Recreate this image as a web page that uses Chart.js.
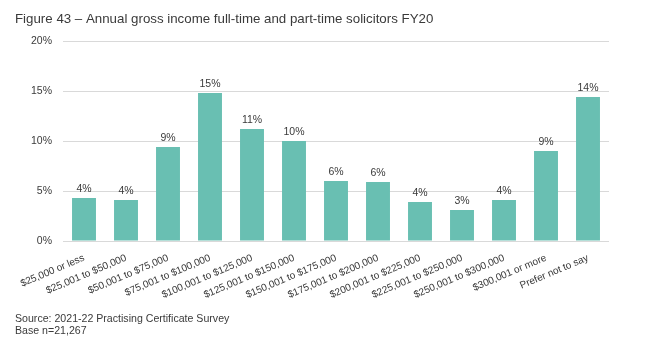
<!DOCTYPE html>
<html>
<head>
<meta charset="utf-8">
<script src="https://cdn.jsdelivr.net/npm/chart.js@4"></script>
<style>
  html, body { margin: 0; padding: 0; background: #fff; }
  #wrap { width: 650px; height: 354px; position: relative; }
</style>
</head>
<body>
<div id="wrap"><canvas id="incomeChart" width="650" height="354"></canvas></div>
<script>
const categories = [
  '$25,000 or less', '$25,001 to $50,000', '$50,001 to $75,000', '$75,001 to $100,000',
  '$100,001 to $125,000', '$125,001 to $150,000', '$150,001 to $175,000', '$175,001 to $200,000',
  '$200,001 to $225,000', '$225,001 to $250,000', '$250,001 to $300,000', '$300,001 or more',
  'Prefer not to say'
];
const shares = [4.3, 4.1, 9.4, 14.8, 11.2, 10.0, 6.0, 5.9, 3.9, 3.1, 4.1, 9.0, 14.4];
const yTicks = [0, 5, 10, 15, 20];

const titleText = 'Figure 43 \u2013 Annual gross income full-time and part-time solicitors FY20';
const noteLines = ['Source: 2021-22 Practising Certificate Survey', 'Base n=21,267'];

const textColor = '#3a3a3a';
const fontFamily = 'Arial, "Liberation Sans", sans-serif';

// labels above bars + title/source text
const barLabels = {
  id: 'barLabels',
  afterDatasetsDraw(chart) {
    const ctx = chart.ctx;
    const meta = chart.getDatasetMeta(0);
    ctx.save();
    ctx.fillStyle = textColor;
    ctx.font = '10.5px ' + fontFamily;
    ctx.textAlign = 'center';
    ctx.textBaseline = 'alphabetic';
    meta.data.forEach((bar, i) => {
      ctx.fillText(Math.round(shares[i]) + '%', bar.x, bar.y - 6);
    });
    ctx.restore();
  },
  afterDraw(chart) {
    const ctx = chart.ctx;
    ctx.save();
    ctx.fillStyle = textColor;
    ctx.textAlign = 'left';
    ctx.textBaseline = 'alphabetic';
    ctx.font = '13.3px ' + fontFamily;
    ctx.fillText(titleText, 15, 23);
    ctx.font = '10.6px ' + fontFamily;
    ctx.fillText(noteLines[0], 15, 322);
    ctx.fillText(noteLines[1], 15, 334);
    ctx.restore();
  }
};

const ctx = document.getElementById('incomeChart');
new Chart(ctx, {
  type: 'bar',
  data: {
    labels: categories,
    datasets: [{
      data: shares,
      backgroundColor: '#69BFB2',
      barPercentage: 0.57,
      categoryPercentage: 1.0
    }]
  },
  options: {
    responsive: false,
    animation: false,
    layout: { padding: { top: 41, left: 0, right: 41, bottom: 0 } },
    plugins: {
      legend: { display: false },
      tooltip: { enabled: false }
    },
    scales: {
      x: {
        grid: { display: false },
        border: { display: false },
        ticks: {
          color: textColor,
          font: { size: 10, family: fontFamily },
          minRotation: 23,
          maxRotation: 23,
          autoSkip: false,
          padding: 3
        },
        afterFit(scale) { scale.height = 113; }
      },
      y: {
        min: 0,
        max: 20,
        afterBuildTicks(scale) { scale.ticks = yTicks.map(v => ({ value: v })); },
        grid: { color: '#d9d9d9', drawTicks: false, lineWidth: 1 },
        border: { display: false },
        ticks: {
          color: textColor,
          font: { size: 10.5, family: fontFamily },
          padding: 11,
          callback: v => v + '%'
        },
        afterFit(scale) { scale.width = 63; }
      }
    }
  },
  plugins: [barLabels]
});
</script>
</body>
</html>
